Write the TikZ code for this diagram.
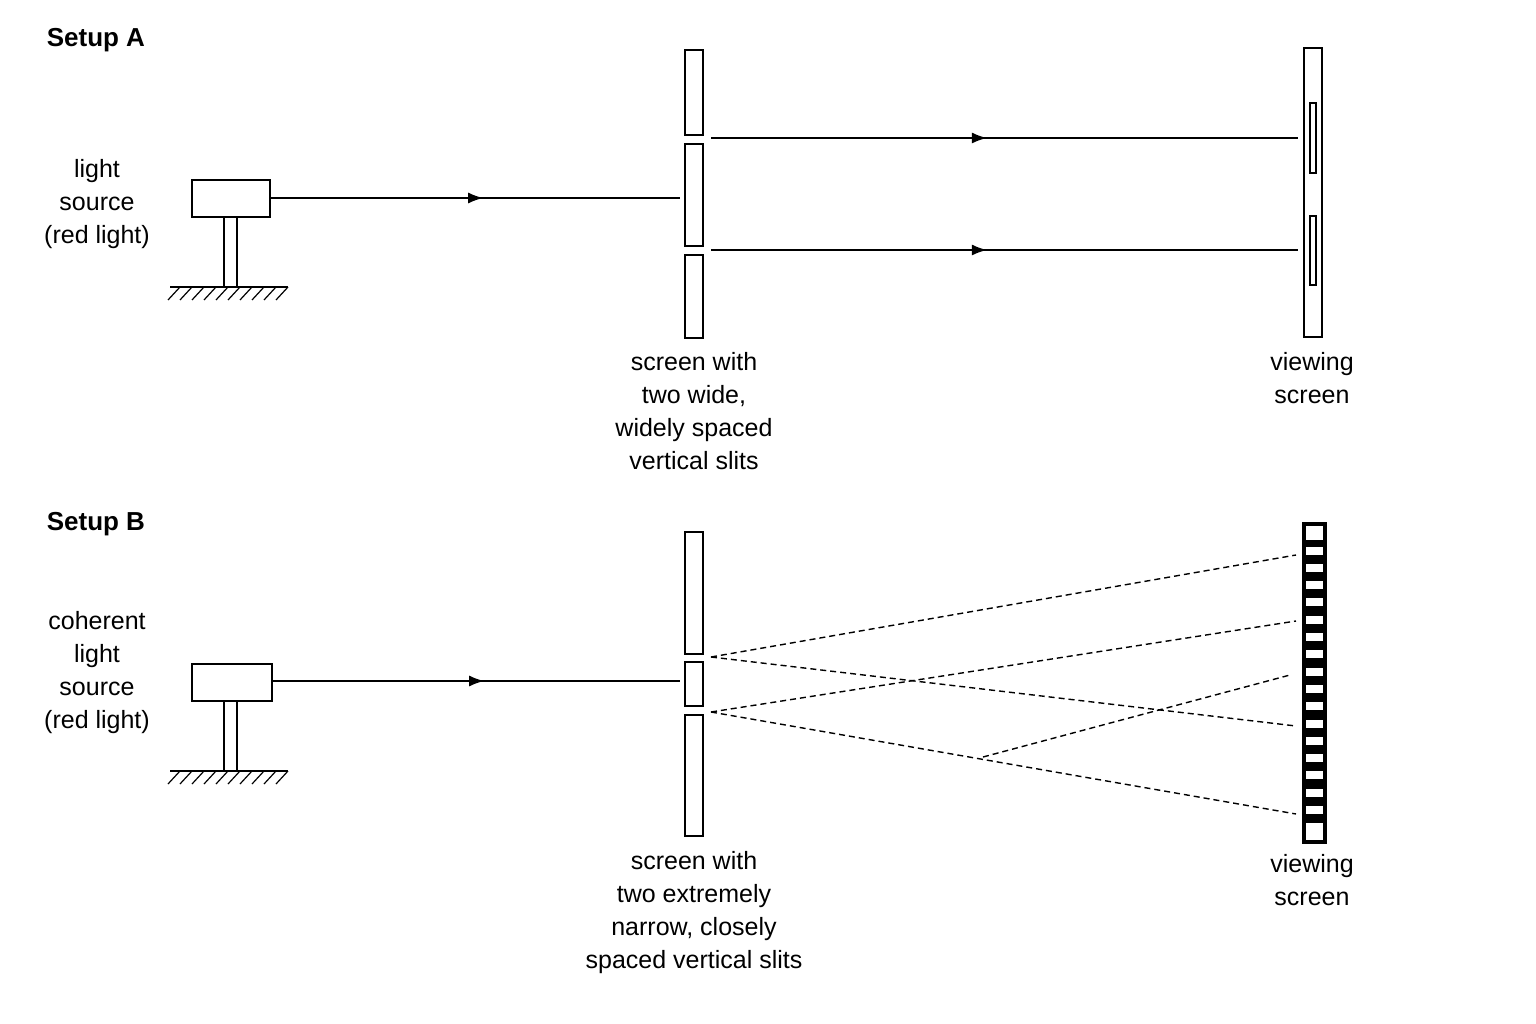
\documentclass[tikz,border=0pt]{standalone}
\usepackage{fontspec}
\setmainfont{Liberation Sans}
\usetikzlibrary{decorations.markings,arrows.meta}
\begin{document}
\begin{tikzpicture}[x=1pt,y=-1pt,line width=1.6pt,
  lbl/.style={align=center,font=\fontsize{25}{33}\selectfont,inner sep=0},
  ttl/.style={anchor=west,font=\fontsize{26}{30}\selectfont\bfseries,inner sep=0},
  beam/.style={postaction={decorate},decoration={markings,mark=at position #1 with {\arrow{Latex[length=15pt,width=11pt]}}}},
  dsh/.style={dashed,dash pattern=on 6pt off 4pt,line width=1.4pt}]
\useasboundingbox (0,0) rectangle (1536,1024);
\foreach \oy in {0,484}{
  \draw (170,287+\oy) -- (288,287+\oy);
  \foreach \hx in {180,192,...,288} \draw[line width=1.2pt] (\hx,287+\oy) -- (\hx-12,300+\oy);
  \draw (224,217+\oy) rectangle (237,287+\oy);
}
% Setup A
\node[ttl] (ta) at (46,40) {Setup A};
\draw (192,180) rectangle (270,217);
\coordinate (sa) at (270,198);
\coordinate (sla) at (680,198);
\draw[beam=0.52] (sa) -- (sla);
\draw (685,50) rectangle (703,135);
\draw (685,144) rectangle (703,246);
\draw (685,255) rectangle (703,338);
\coordinate (a1) at (711,138); \coordinate (a2) at (1298,138);
\coordinate (b1) at (711,250); \coordinate (b2) at (1298,250);
\draw[beam=0.47] (a1) -- (a2);
\draw[beam=0.47] (b1) -- (b2);
\draw (1304,48) rectangle (1322,337);
\draw[line width=1.2pt] (1310,103) rectangle (1316,173);
\draw[line width=1.2pt] (1310,216) rectangle (1316,285);
\node[lbl] (la) at (97,204) {light\\source\\(red light)};
\node[lbl] (lsa) at (694,411) {screen with\\two wide,\\widely spaced\\vertical slits};
\node[lbl] (lva) at (1312,378) {viewing\\screen};
% Setup B
\node[ttl] (tb) at (46,524) {Setup B};
\draw (192,664) rectangle (272,701);
\coordinate (sb) at (272,681);
\coordinate (slb) at (680,681);
\draw[beam=0.52] (sb) -- (slb);
\draw (685,532) rectangle (703,654);
\draw (685,662) rectangle (703,706);
\draw (685,715) rectangle (703,836);
\coordinate (u) at (711,657); \coordinate (l) at (711,712);
\draw[dsh] (u) -- (1296,555);
\draw[dsh] (u) -- (1296,726);
\draw[dsh] (l) -- (1296,621);
\draw[dsh] (l) -- (1296,814);
\draw[dsh] (983,757) -- (1290,675);
\fill[black] (1303,523) rectangle (1326,843);
\fill[white] (1306,526) rectangle (1323,540);
\foreach \i in {0,...,16} \fill[white] (1306,546.5+17.3*\i) rectangle (1323,554.5+17.3*\i);
\fill[white] (1306,826) rectangle (1323,840);
\draw (1303,523) rectangle (1326,843);
\node[lbl] (lb) at (97,673) {coherent\\light\\source\\(red light)};
\node[lbl] (lsb) at (694,913) {screen with\\two extremely\\narrow, closely\\spaced vertical slits};
\node[lbl] (lvb) at (1312,880) {viewing\\screen};
\end{tikzpicture}
\end{document}
